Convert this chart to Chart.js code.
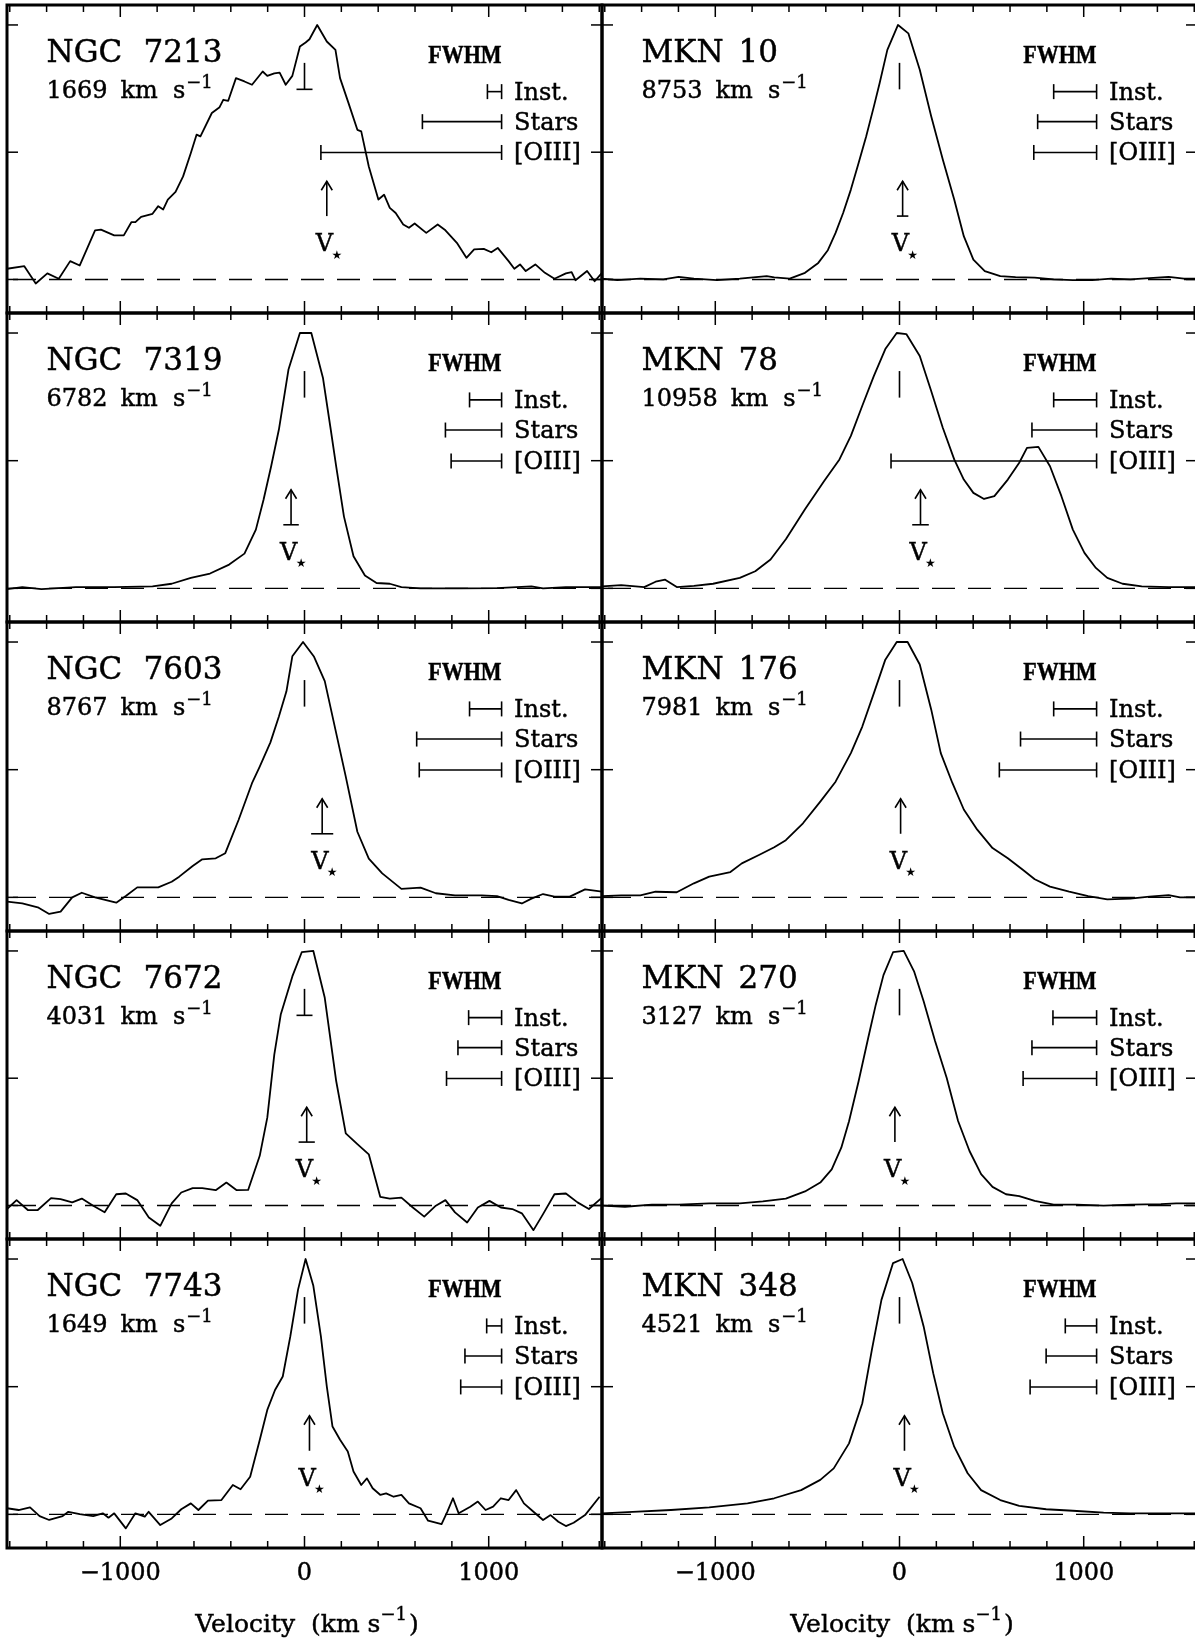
<!DOCTYPE html>
<html>
<head>
<meta charset="utf-8">
<title>[OIII] line profiles</title>
<script src="https://cdn.jsdelivr.net/npm/chart.js@4.4.1/dist/chart.umd.min.js"></script>
<style>
  html, body { margin: 0; padding: 0; background: #fff; }
  #fig { position: relative; width: 1195px; height: 1640px; overflow: hidden; background: #fff; }
  #fig canvas { position: absolute; }
</style>
</head>
<body>
<div id="fig"></div>
<script>
// ---- Normalised [OIII] profiles: velocity (km/s) relative to systemic, peak flux = 1 ----
const ngc7213Vel = [-1615,-1521,-1459,-1396,-1334,-1272,-1220,-1137,-1105,-1033,-981,-940,-918,-887,-825,-794,-767,-742,-700,-659,-617,-586,-565,-503,-461,-441,-414,-372,-326,-285,-227,-202,-164,-135,-102,-66,-25,6,27,69,121,168,193,239,287,308,349,401,432,463,495,536,567,598,661,723,765,827,879,921,973,1014,1049,1108,1139,1170,1201,1253,1305,1357,1419,1450,1471,1534,1575,1615];
const ngc7213Flux = [0.042,0.052,-0.016,0.024,0.003,0.072,0.055,0.193,0.196,0.173,0.173,0.225,0.225,0.246,0.258,0.288,0.275,0.314,0.344,0.405,0.497,0.569,0.562,0.654,0.677,0.706,0.702,0.791,0.778,0.765,0.817,0.800,0.810,0.813,0.765,0.800,0.915,0.931,0.944,1.000,0.935,0.902,0.791,0.693,0.588,0.582,0.444,0.314,0.333,0.281,0.261,0.216,0.203,0.220,0.183,0.216,0.193,0.144,0.085,0.118,0.120,0.107,0.124,0.072,0.042,0.059,0.033,0.059,0.026,0.003,0.024,0.029,-0.003,0.033,-0.007,0.026];

const mkn10Vel = [-1615,-1532,-1407,-1282,-1199,-1116,-991,-867,-721,-680,-596,-513,-441,-389,-347,-306,-264,-222,-181,-139,-108,-66,-8,48,110,172,235,297,349,401,463,547,630,734,837,941,1045,1149,1253,1357,1461,1544,1615];
const mkn10Flux = [0.003,-0.003,0.003,0,0.010,0.003,-0.003,0.003,0.013,0.008,0.003,0.026,0.065,0.115,0.183,0.261,0.353,0.458,0.562,0.680,0.771,0.902,1.000,0.967,0.824,0.641,0.471,0.314,0.170,0.078,0.033,0.013,0.009,0.007,0,-0.003,-0.003,0.003,0,0.005,0.010,0.003,0.003];

const ngc7319Vel = [-1615,-1532,-1428,-1241,-1033,-825,-721,-617,-513,-409,-326,-264,-222,-181,-139,-87,-25,37,100,141,172,214,266,328,391,463,526,630,837,1045,1232,1295,1419,1615];
const ngc7319Flux = [-0.003,0.005,-0.003,0.005,0.005,0.008,0.018,0.041,0.058,0.093,0.136,0.230,0.348,0.478,0.622,0.857,1.000,1.000,0.825,0.629,0.478,0.282,0.126,0.050,0.021,0.018,0.005,0,0,0.001,0.008,0,0.005,0.005];

const mkn78Vel = [-1615,-1511,-1386,-1324,-1272,-1209,-1116,-1012,-867,-783,-700,-617,-513,-409,-326,-264,-202,-139,-77,-15,37,110,172,235,297,349,401,459,515,588,650,692,754,817,879,941,1004,1066,1128,1211,1315,1461,1615];
const mkn78Flux = [0.008,0.013,0.005,0.026,0.034,0.005,0.010,0.018,0.041,0.067,0.113,0.192,0.310,0.420,0.505,0.597,0.715,0.832,0.937,1.000,0.996,0.910,0.773,0.629,0.505,0.426,0.374,0.350,0.361,0.426,0.492,0.550,0.554,0.478,0.361,0.230,0.139,0.080,0.041,0.018,0.008,0.005,0.005];

const ngc7603Vel = [-1615,-1532,-1448,-1386,-1324,-1261,-1209,-1137,-1022,-970,-908,-794,-721,-680,-607,-555,-482,-430,-358,-285,-243,-185,-139,-98,-66,-8,52,110,172,224,287,349,422,526,630,713,817,962,1045,1108,1180,1232,1295,1357,1440,1523,1615];
const ngc7603Flux = [-0.017,-0.024,-0.039,-0.065,-0.056,0,0.018,0,-0.021,0.005,0.039,0.039,0.061,0.081,0.123,0.149,0.153,0.173,0.303,0.447,0.512,0.607,0.708,0.807,0.944,1.000,0.942,0.847,0.643,0.473,0.257,0.152,0.094,0.033,0.038,0.016,0.008,0.008,0.005,-0.010,-0.024,-0.005,0.013,0.003,0.003,0.031,0.022];

const mkn176Vel = [-1615,-1511,-1407,-1324,-1209,-1116,-1033,-918,-856,-763,-680,-617,-524,-430,-347,-264,-202,-139,-77,-15,44,110,172,224,287,349,422,505,588,671,734,817,921,1024,1128,1253,1357,1461,1523,1615];
const mkn176Flux = [0.005,0.008,0.008,0.022,0.020,0.055,0.081,0.099,0.133,0.166,0.196,0.224,0.290,0.375,0.453,0.565,0.669,0.800,0.931,1.000,1.000,0.912,0.736,0.565,0.448,0.344,0.265,0.193,0.153,0.107,0.071,0.042,0.022,0.005,-0.008,-0.005,0.003,0.009,0,0];

const ngc7672Vel = [-1615,-1563,-1502,-1448,-1376,-1324,-1261,-1209,-1147,-1085,-1022,-970,-908,-845,-783,-721,-669,-607,-555,-482,-424,-368,-306,-243,-202,-164,-129,-66,-15,48,110,172,224,287,349,411,463,526,588,650,713,765,817,883,941,1004,1066,1128,1180,1243,1295,1357,1419,1482,1544,1615];
const ngc7672Flux = [-0.014,0.021,-0.018,-0.018,0.029,0.025,0.012,0.027,-0.001,-0.027,0.044,0.047,0.021,-0.047,-0.080,0.008,0.051,0.068,0.068,0.060,0.090,0.060,0.061,0.195,0.345,0.593,0.750,0.900,0.995,1.000,0.816,0.489,0.283,0.241,0.201,0.034,0.027,0.031,-0.008,-0.044,-0.001,0.021,-0.027,-0.067,-0.008,0.018,-0.008,-0.014,-0.031,-0.097,-0.034,0.044,0.047,0.012,-0.014,0.031];

const mkn270Vel = [-1615,-1490,-1344,-1199,-1033,-867,-742,-617,-513,-430,-368,-316,-274,-222,-170,-129,-87,-35,23,79,131,193,256,318,380,443,505,578,650,734,837,962,1108,1253,1419,1502,1615];
const mkn270Flux = [-0.001,-0.005,0.003,0.003,0.008,0.008,0.016,0.027,0.055,0.090,0.142,0.227,0.331,0.488,0.658,0.788,0.905,0.995,1.000,0.920,0.802,0.646,0.502,0.332,0.214,0.123,0.073,0.044,0.037,0.018,0.003,0.003,-0.001,0.003,0.005,0.008,0.008];

const ngc7743Vel = [-1615,-1552,-1490,-1438,-1386,-1313,-1282,-1220,-1147,-1095,-1064,-1033,-970,-918,-867,-846,-783,-721,-669,-617,-576,-524,-451,-389,-347,-295,-243,-202,-160,-118,-77,-35,6,48,89,121,152,193,235,266,308,339,370,412,443,484,526,567,630,671,744,775,806,837,900,941,983,1024,1066,1108,1149,1191,1243,1295,1336,1378,1419,1461,1523,1602];
const ngc7743Flux = [0.024,0.017,0.027,-0.007,-0.022,-0.007,0.010,0.001,-0.007,0.004,-0.013,0.004,-0.055,0.004,-0.009,0.010,-0.042,-0.016,0.020,0.043,0.017,0.054,0.056,0.115,0.098,0.147,0.291,0.409,0.487,0.540,0.697,0.880,1.000,0.895,0.697,0.501,0.344,0.292,0.246,0.168,0.115,0.141,0.102,0.076,0.082,0.069,0.076,0.043,0.024,-0.025,-0.038,0.010,0.063,0.004,0.030,0.050,0.017,0.030,0.063,0.056,0.095,0.043,0.010,-0.022,-0.003,-0.029,-0.046,-0.033,-0.003,0.069];

const mkn348Vel = [-1615,-1448,-1241,-1033,-825,-680,-534,-430,-357,-274,-202,-150,-98,-35,17,69,131,183,235,297,370,443,547,650,796,941,1108,1253,1461,1615];
const mkn348Flux = [0.004,0.010,0.017,0.027,0.043,0.063,0.095,0.135,0.180,0.278,0.435,0.644,0.840,0.984,1.000,0.906,0.736,0.553,0.396,0.265,0.161,0.095,0.056,0.033,0.020,0.014,0.007,0.004,0.004,0.004];

// ---- Per-panel annotations (row-major: left column NGC, right column MKN) ----
const galaxyNames = ['NGC 7213','MKN 10','NGC 7319','MKN 78','NGC 7603','MKN 176','NGC 7672','MKN 270','NGC 7743','MKN 348'];
const systemicVelocity = ['1669','8753','6782','10958','8767','7981','4031','3127','1649','4521'];
const instFwhm  = [77,233,174,233,174,233,179,237,81,170];     // km/s
const starsFwhm = [430,320,305,351,461,413,237,351,199,274];   // km/s
const oiiiFwhm  = [981,341,274,1116,447,528,299,399,222,361];  // km/s
const stellarVel = [121,17,-73,114,96,6,12,-25,27,27];          // V* (km/s)
const stellarVelErr = [0,31,42,45,60,0,44,0,0,0];               // half-width of V* bar (km/s)
const systemicFoot = [true,false,false,false,false,false,true,false,false,false];
const fwhmLabels = ['Inst.','Stars','[OIII]'];
const xTickValues = [-1000, 0, 1000];
const xTickLabels = ['\u22121000', '0', '1000'];
const yTickValues = [0, 0.5, 1];

const profiles = [
  [ngc7213Vel, ngc7213Flux], [mkn10Vel, mkn10Flux],
  [ngc7319Vel, ngc7319Flux], [mkn78Vel, mkn78Flux],
  [ngc7603Vel, ngc7603Flux], [mkn176Vel, mkn176Flux],
  [ngc7672Vel, ngc7672Flux], [mkn270Vel, mkn270Flux],
  [ngc7743Vel, ngc7743Flux], [mkn348Vel, mkn348Flux]
];

// ---- Layout ----
const COL_LEFT = [7, 602];
const PANEL_W = 595;
const ROW_TOP = [5, 313, 622, 931, 1239, 1548];
const PAD = 12;
const BOTTOM_EXTRA = 95;
const V_MIN = -1615, V_MAX = 1615;
const F_MIN = -0.1318, F_MAX = 1.0784;
const FWHM_BAR_END = 1070;          // right end of the FWHM scale bars (km/s)
const FWHM_ROWS = [0.738, 0.620, 0.499];
const SERIF = '"DejaVu Serif", "Liberation Serif", serif';

function seg(ctx, x1, y1, x2, y2) {
  ctx.beginPath(); ctx.moveTo(x1, y1); ctx.lineTo(x2, y2); ctx.stroke();
}
// filled text with a faint outline so the strokes read as heavy as a plotter font
function txt(ctx, s, x, y, font, align) {
  ctx.font = font; ctx.textAlign = align || 'left'; ctx.textBaseline = 'alphabetic';
  ctx.fillText(s, x, y);
  ctx.save();
  ctx.lineWidth = 0.45;
  ctx.setLineDash([]);
  ctx.strokeText(s, x, y);
  ctx.restore();
  return ctx.measureText(s).width;
}

const panelDecor = {
  id: 'panelDecor',
  beforeDatasetsDraw(chart) {
    const { ctx, chartArea: a, scales: { y } } = chart;
    const y0 = y.getPixelForValue(0);
    ctx.save();
    ctx.strokeStyle = '#000';
    ctx.lineWidth = 1.4;
    ctx.setLineDash([23, 13]);
    ctx.lineDashOffset = -6;
    seg(ctx, a.left, y0, a.right, y0);
    ctx.restore();
  },
  afterDatasetsDraw(chart, args, o) {
    const i = o.index;
    const { ctx, chartArea: a, scales: { x, y } } = chart;
    ctx.save();
    ctx.strokeStyle = '#000';
    ctx.fillStyle = '#000';

    // frame
    ctx.lineWidth = 3;
    ctx.strokeRect(a.left, a.top, a.right - a.left, a.bottom - a.top);

    // inward ticks
    ctx.lineWidth = 1.5;
    for (let v = -1600; v <= 1600; v += 200) {
      const px = x.getPixelForValue(v);
      const len = (v % 1000 === 0) ? 12 : 7;
      seg(ctx, px, a.top, px, a.top + len);
      seg(ctx, px, a.bottom, px, a.bottom - len);
    }
    yTickValues.forEach(t => {
      const py = y.getPixelForValue(t);
      seg(ctx, a.left, py, a.left + 11, py);
      seg(ctx, a.right, py, a.right - 11, py);
    });

    // galaxy name and systemic velocity
    const parts = galaxyNames[i].split(' ');
    txt(ctx, parts[0], a.left + 39.5, a.top + 56.7, '31px ' + SERIF);
    txt(ctx, parts[1], a.left + 136.5, a.top + 56.7, '31px ' + SERIF);
    let cx = a.left + 39.5;
    const vb = a.top + 93.3;
    cx += txt(ctx, systemicVelocity[i], cx, vb, '24px ' + SERIF) + 13;
    cx += txt(ctx, 'km', cx, vb, '24px ' + SERIF) + 15;
    cx += txt(ctx, 's', cx, vb, '24px ' + SERIF) + 1;
    txt(ctx, '\u22121', cx, vb - 10.5, '18px ' + SERIF);

    // FWHM scale bars
    const xe = x.getPixelForValue(FWHM_BAR_END);
    ctx.save();
    ctx.translate(xe, a.top + 58.3);
    ctx.scale(0.88, 1);
    txt(ctx, 'FWHM', 0, 0, 'bold 25px "Liberation Serif", serif', 'right');
    ctx.restore();
    const widths = [instFwhm[i], starsFwhm[i], oiiiFwhm[i]];
    widths.forEach((w, k) => {
      const py = y.getPixelForValue(FWHM_ROWS[k]);
      const xs = x.getPixelForValue(FWHM_BAR_END - w);
      ctx.lineWidth = 1.6;
      seg(ctx, xs, py, xe, py);
      seg(ctx, xs, py - 7.5, xs, py + 7.5);
      seg(ctx, xe, py - 7.5, xe, py + 7.5);
      txt(ctx, fwhmLabels[k], xe + 12.5, py + 8, '24px ' + SERIF);
    });

    // systemic velocity marker
    const x0 = x.getPixelForValue(0);
    const ys1 = y.getPixelForValue(0.851), ys2 = y.getPixelForValue(0.747);
    ctx.lineWidth = 1.6;
    seg(ctx, x0, ys1, x0, ys2);
    if (systemicFoot[i]) seg(ctx, x0 - 8, ys2, x0 + 8, ys2);

    // stellar velocity arrow
    const xa = x.getPixelForValue(stellarVel[i]);
    const yt = y.getPixelForValue(0.386), yb = y.getPixelForValue(0.249);
    seg(ctx, xa, yb, xa, yt);
    ctx.beginPath();
    ctx.moveTo(xa - 5.5, yt + 9); ctx.lineTo(xa, yt); ctx.lineTo(xa + 5.5, yt + 9);
    ctx.stroke();
    if (stellarVelErr[i] > 0) {
      seg(ctx, x.getPixelForValue(stellarVel[i] - stellarVelErr[i]), yb,
               x.getPixelForValue(stellarVel[i] + stellarVelErr[i]), yb);
    }
    txt(ctx, 'V', xa - 2.3, y.getPixelForValue(0.110), '24px ' + SERIF, 'center');
    ctx.font = '12px "DejaVu Sans", sans-serif';
    ctx.textAlign = 'center'; ctx.textBaseline = 'middle';
    ctx.fillText('\u2605', xa + 10, y.getPixelForValue(0.094));

    // velocity axis labels along the bottom row
    if (o.bottom) {
      xTickValues.forEach((v, k) => {
        txt(ctx, xTickLabels[k], x.getPixelForValue(v), a.bottom + 32, '24px ' + SERIF, 'center');
      });
      ctx.font = '25px ' + SERIF;
      const w1 = ctx.measureText('Velocity  (km s').width;
      ctx.font = '18px ' + SERIF;
      const w2 = ctx.measureText('\u22121').width;
      ctx.font = '25px ' + SERIF;
      const w3 = ctx.measureText(')').width;
      let tx = (a.left + a.right) / 2 + 2.5 - (w1 + w2 + w3 + 2) / 2;
      const tb = a.bottom + 84;
      tx += txt(ctx, 'Velocity  (km s', tx, tb, '25px ' + SERIF);
      tx += txt(ctx, '\u22121', tx, tb - 12, '18px ' + SERIF) + 2;
      txt(ctx, ')', tx, tb, '25px ' + SERIF);
    }
    ctx.restore();
  }
};

const fig = document.getElementById('fig');
profiles.forEach(([vel, flux], i) => {
  const row = Math.floor(i / 2), col = i % 2;
  const bottom = row === 4;
  const top = ROW_TOP[row], h = ROW_TOP[row + 1] - ROW_TOP[row];
  const padB = PAD + (bottom ? BOTTOM_EXTRA : 0);
  const cv = document.createElement('canvas');
  cv.width = PANEL_W + 2 * PAD;
  cv.height = h + PAD + padB;
  cv.style.left = (COL_LEFT[col] - PAD) + 'px';
  cv.style.top = (top - PAD) + 'px';
  cv.style.width = cv.width + 'px';
  cv.style.height = cv.height + 'px';
  fig.appendChild(cv);

  new Chart(cv, {
    type: 'line',
    data: {
      datasets: [{
        data: vel.map((v, k) => ({ x: v, y: flux[k] })),
        borderColor: '#000',
        borderWidth: 1.8,
        borderJoinStyle: 'round',
        pointRadius: 0,
        tension: 0,
        fill: false
      }]
    },
    options: {
      responsive: false,
      animation: false,
      events: [],
      devicePixelRatio: 1,
      layout: { padding: { left: PAD, right: PAD, top: PAD, bottom: padB } },
      scales: {
        x: { type: 'linear', min: V_MIN, max: V_MAX, display: false },
        y: { type: 'linear', min: F_MIN, max: F_MAX, display: false }
      },
      plugins: {
        legend: { display: false },
        tooltip: { enabled: false },
        panelDecor: { index: i, bottom: bottom }
      }
    },
    plugins: [panelDecor]
  });
});
</script>
</body>
</html>
